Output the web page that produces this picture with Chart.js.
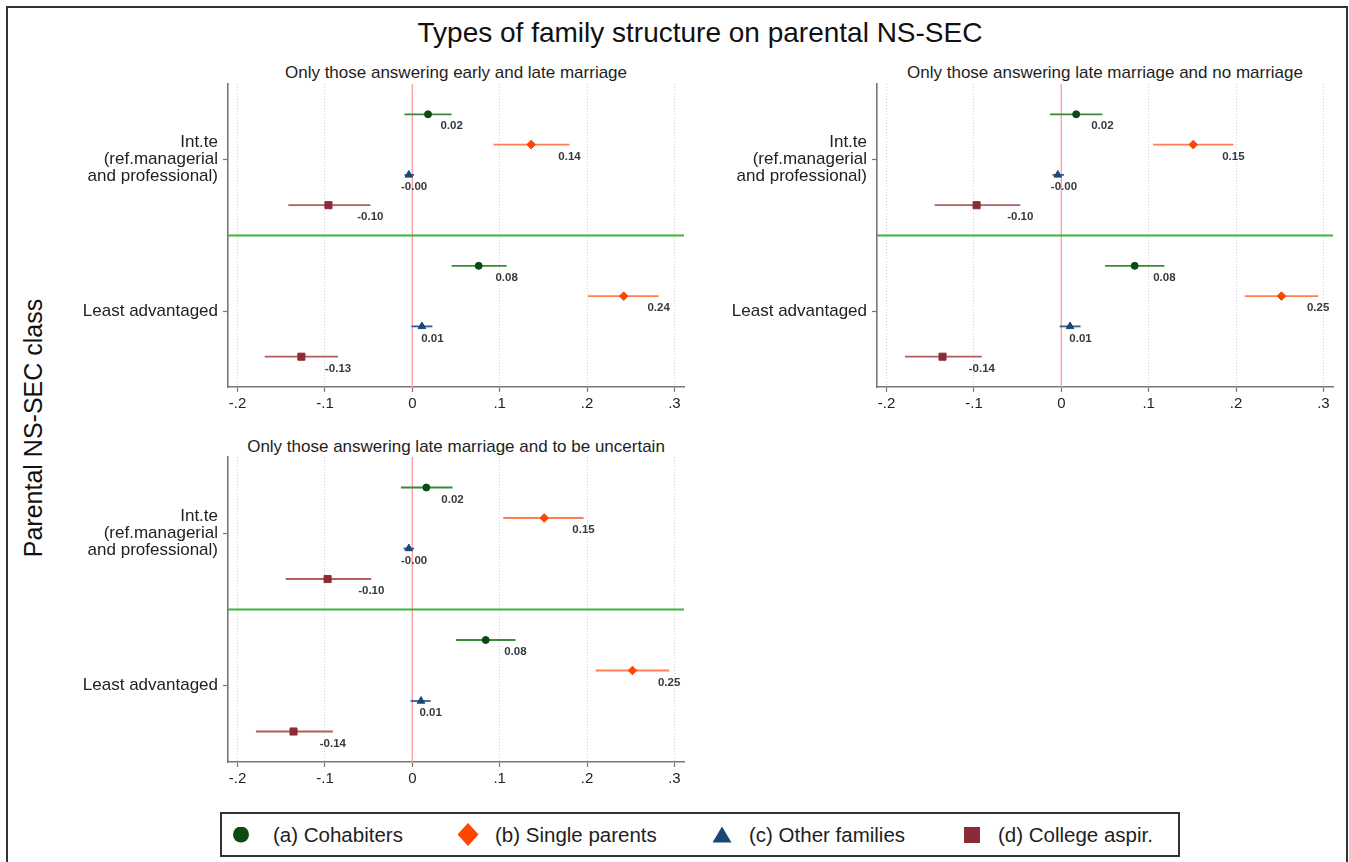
<!DOCTYPE html>
<html>
<head>
<meta charset="utf-8">
<title>Types of family structure on parental NS-SEC</title>
<script src="https://cdn.jsdelivr.net/npm/chart.js@4.4.1/dist/chart.umd.min.js"></script>
<style>
  html, body { margin: 0; padding: 0; background: #fff; }
  body {
    width: 1349px; height: 862px; position: relative; overflow: hidden;
    font-family: "Liberation Sans", Arial, Helvetica, sans-serif; color: #1e1e1e;
  }
  .frame {
    position: absolute; left: 6px; top: 6px; width: 1342px; height: 880px;
    border: 2px solid #333; box-sizing: border-box;
  }
  canvas { position: absolute; }
  .title {
    position: absolute; left: 300px; top: 16px; width: 800px; text-align: center;
    font-size: 28px; line-height: 34px; color: #111;
  }
  .subtitle {
    position: absolute; width: 600px; text-align: center;
    font-size: 17px; line-height: 20px; color: #1e1e1e;
  }
  .ytitle {
    position: absolute; left: -167px; top: 413px; width: 400px; height: 30px;
    line-height: 30px; text-align: center; font-size: 25px; color: #111;
    transform: rotate(-90deg);
  }
  .legend {
    position: absolute; left: 220px; top: 812px; width: 960px; height: 45px;
    border: 2px solid #333; box-sizing: border-box;
  }
  .sym { position: absolute; }
  .ltxt { position: absolute; font-size: 20.5px; line-height: 24px; color: #1e1e1e; white-space: nowrap; }
</style>
</head>
<body>
<div class="frame"></div>
<div class="title" id="mainTitle"></div>
<div class="ytitle" id="yTitle"></div>
<div class="subtitle" id="sub0" style="left:156px; top:63px;"></div>
<div class="subtitle" id="sub1" style="left:805px; top:63px;"></div>
<div class="subtitle" id="sub2" style="left:156px; top:437px;"></div>

<canvas id="panel0" width="700" height="366" style="left:0px; top:54px;"></canvas>
<canvas id="panel1" width="700" height="366" style="left:649px; top:54px;"></canvas>
<canvas id="panel2" width="700" height="368" style="left:0px; top:427px;"></canvas>

<div class="legend" id="legend"></div>

<script>
// ---- text ----
const mainTitle = 'Types of family structure on parental NS-SEC';
const yAxisTitle = 'Parental NS-SEC class';
const panelTitles = [
  'Only those answering early and late marriage',
  'Only those answering late marriage and no marriage',
  'Only those answering late marriage and to be uncertain'
];
const seriesNames = ['(a) Cohabiters', '(b) Single parents', '(c) Other families', '(d) College aspir.'];
const classLabels = [['Int.te', '(ref.managerial', 'and professional)'], ['Least advantaged']];
const xTickValues = [-0.2, -0.1, 0, 0.1, 0.2, 0.3];
const xTickText = ['-.2', '-.1', '0', '.1', '.2', '.3'];

// ---- coefficients with 95% CIs ----
// order: Int.te (a, b, c, d), then Least advantaged (a, b, c, d)
const earlyLateEst = [0.018, 0.136, -0.004, -0.096, 0.076, 0.242, 0.011, -0.127];
const earlyLateLo  = [-0.009, 0.093, -0.009, -0.142, 0.045, 0.201, -0.001, -0.169];
const earlyLateHi  = [0.045, 0.180, 0.002, -0.048, 0.108, 0.282, 0.023, -0.085];

const lateNoEst = [0.017, 0.151, -0.004, -0.097, 0.084, 0.252, 0.010, -0.136];
const lateNoLo  = [-0.013, 0.105, -0.010, -0.145, 0.050, 0.210, -0.002, -0.179];
const lateNoHi  = [0.047, 0.197, 0.003, -0.047, 0.118, 0.294, 0.022, -0.091];

const lateUncEst = [0.016, 0.151, -0.004, -0.097, 0.084, 0.252, 0.010, -0.136];
const lateUncLo  = [-0.013, 0.104, -0.010, -0.145, 0.050, 0.210, -0.002, -0.179];
const lateUncHi  = [0.046, 0.196, 0.002, -0.047, 0.118, 0.294, 0.021, -0.091];

// ---- styling ----
const markerColors = ['#0b4a12', '#ff4500', '#1a4775', '#8b2c35'];
const ciColors     = ['#3a8a3a', '#ff7f50', '#3a5f8f', '#b35c62'];
const pointStyles  = ['circle', 'rectRot', 'triangle', 'rect'];
const pointRadii   = [3.5, 4.3, 4.4, 5.0];
const X_MIN = -0.211, X_MAX = 0.311;
const SLOTS = seriesNames.length + 1;          // rows per class block incl. separator
const FONT = '"Liberation Sans", Arial, Helvetica, sans-serif';

Chart.defaults.font.family = FONT;

document.getElementById('mainTitle').textContent = mainTitle;
document.getElementById('yTitle').textContent = yAxisTitle;
panelTitles.forEach((t, i) => { document.getElementById('sub' + i).textContent = t; });

const rowOf = (g, s) => g * SLOTS + s + 1;

function makeDatasets(est, lo, hi) {
  const ds = [];
  // point estimates (listed first so they sit on top)
  seriesNames.forEach((name, s) => {
    ds.push({
      label: name,
      data: classLabels.map((_, g) => ({ x: est[g * seriesNames.length + s], y: rowOf(g, s) })),
      pointStyle: pointStyles[s],
      pointRadius: pointRadii[s],
      backgroundColor: markerColors[s],
      borderColor: markerColors[s],
      borderWidth: 1,
      showLine: false
    });
  });
  // confidence intervals
  seriesNames.forEach((name, s) => {
    classLabels.forEach((_, g) => {
      const i = g * seriesNames.length + s;
      ds.push({
        data: [{ x: lo[i], y: rowOf(g, s) }, { x: hi[i], y: rowOf(g, s) }],
        showLine: true, pointRadius: 0,
        borderColor: ciColors[s], borderWidth: 1.8
      });
    });
  });
  // separator between the two classes
  ds.push({
    data: [{ x: X_MIN, y: SLOTS }, { x: X_MAX, y: SLOTS }],
    showLine: true, pointRadius: 0, borderColor: '#3cb43c', borderWidth: 2
  });
  // zero reference
  ds.push({
    data: [{ x: 0, y: 0 }, { x: 0, y: 2 * SLOTS }],
    showLine: true, pointRadius: 0, borderColor: '#ffa0a0', borderWidth: 1.4
  });
  return ds;
}

function valueLabelPlugin(est, hi) {
  return {
    id: 'valueLabels',
    afterDatasetsDraw(chart) {
      const { ctx, scales: { x, y } } = chart;
      ctx.save();
      ctx.font = 'bold 11.5px ' + FONT;
      ctx.fillStyle = '#353a40';
      ctx.textAlign = 'center';
      ctx.textBaseline = 'middle';
      classLabels.forEach((_, g) => {
        seriesNames.forEach((__, s) => {
          const i = g * seriesNames.length + s;
          ctx.fillText(est[i].toFixed(2), x.getPixelForValue(hi[i]), y.getPixelForValue(rowOf(g, s)) + 12);
        });
      });
      ctx.restore();
    }
  };
}

function buildPanel(id, est, lo, hi) {
  return new Chart(document.getElementById(id), {
    type: 'scatter',
    data: { datasets: makeDatasets(est, lo, hi) },
    options: {
      responsive: false,
      animation: false,
      events: [],
      layout: { padding: { top: 30, right: 16, bottom: 0, left: 0 } },
      plugins: { legend: { display: false }, tooltip: { enabled: false } },
      scales: {
        x: {
          type: 'linear', min: X_MIN, max: X_MAX,
          afterBuildTicks: a => { a.ticks = xTickValues.map(v => ({ value: v })); },
          afterFit: a => { a.height = 33; },
          ticks: {
            callback: (v, i) => xTickText[i],
            font: { size: 15 }, color: '#222', padding: 3, maxRotation: 0, autoSkip: false
          },
          grid: {
            color: '#d0d0d0', lineWidth: 1, drawTicks: true, tickLength: 5,
            tickColor: '#777', tickWidth: 1.2, tickBorderDash: []
          },
          border: { display: true, color: '#777', width: 1.6, dash: [1, 2] }
        },
        y: {
          type: 'linear', min: 0, max: 2 * SLOTS, reverse: true,
          afterBuildTicks: a => { a.ticks = classLabels.map((_, g) => ({ value: g * SLOTS + SLOTS / 2 })); },
          afterFit: a => { a.width = 228; },
          ticks: {
            callback: (v, i) => classLabels[i],
            font: { size: 17, lineHeight: 1.0 }, color: '#222', padding: 5, autoSkip: false
          },
          grid: { drawOnChartArea: false, drawTicks: true, tickLength: 5, tickColor: '#777', tickWidth: 1.2 },
          border: { display: true, color: '#777', width: 1.6 }
        }
      }
    },
    plugins: [valueLabelPlugin(est, hi)]
  });
}

buildPanel('panel0', earlyLateEst, earlyLateLo, earlyLateHi);
buildPanel('panel1', lateNoEst, lateNoLo, lateNoHi);
buildPanel('panel2', lateUncEst, lateUncLo, lateUncHi);

// ---- legend ----
const legendSymbols = [
  { w: 16, h: 16, clip: 'circle(50% at 50% 50%)', cx: 21 },
  { w: 21, h: 23, clip: 'polygon(50% 0, 100% 50%, 50% 100%, 0 50%)', cx: 248 },
  { w: 19, h: 16, clip: 'polygon(50% 0, 100% 100%, 0 100%)', cx: 502 },
  { w: 16, h: 16, clip: 'none', cx: 752 }
];
const legendTextLeft = [53, 275, 529, 778];
const legend = document.getElementById('legend');
seriesNames.forEach((name, s) => {
  const sym = document.createElement('div');
  const L = legendSymbols[s];
  sym.className = 'sym';
  sym.style.width = L.w + 'px';
  sym.style.height = L.h + 'px';
  sym.style.left = (L.cx - L.w / 2 - 2) + 'px';
  sym.style.top = (20.5 - L.h / 2) + 'px';
  sym.style.background = markerColors[s];
  if (L.clip !== 'none') sym.style.clipPath = L.clip;
  legend.appendChild(sym);
  const t = document.createElement('div');
  t.className = 'ltxt';
  t.style.left = (legendTextLeft[s] - 2) + 'px';
  t.style.top = '8.5px';
  t.textContent = name;
  legend.appendChild(t);
});
</script>
</body>
</html>
